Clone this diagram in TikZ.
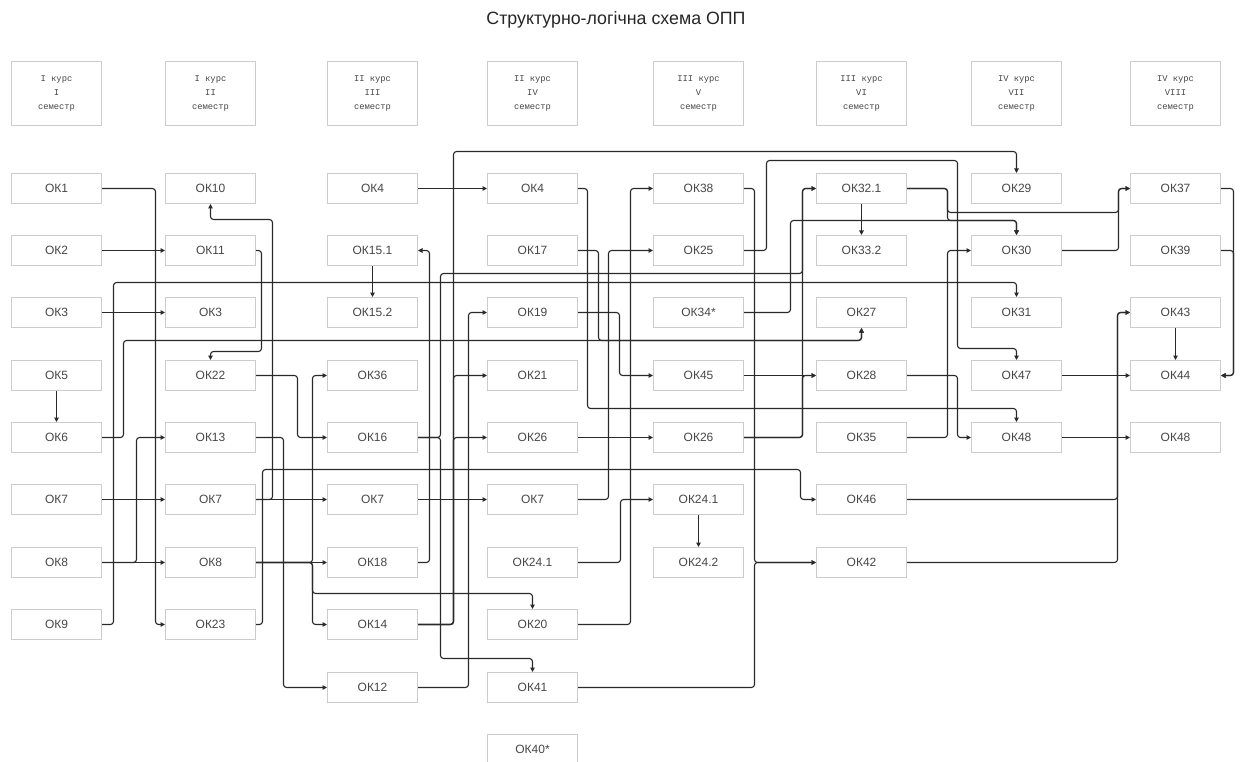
\documentclass[tikz,border=0pt]{standalone}
\usepackage{fontspec}
\setmainfont{Liberation Sans}
\newfontfamily\headfont{Liberation Mono}
\usetikzlibrary{arrows.meta}
\definecolor{boxline}{HTML}{CCCCCC}
\definecolor{wire}{HTML}{2A2A2A}
\definecolor{labeltext}{HTML}{474747}
\tikzset{
  semester/.style={
    draw=boxline,
    fill=white,
    line width=1pt,
    minimum width=90pt,
    minimum height=64pt,
    inner sep=0pt,
    align=center,
    text=labeltext,
    font=\headfont\fontsize{8.8}{14.3}\selectfont
  },
  subj/.style={
    draw=boxline,
    fill=white,
    line width=1pt,
    minimum width=90pt,
    minimum height=30pt,
    inner sep=0pt,
    text=labeltext,
    font=\fontsize{12}{14}\selectfont
  },
  link/.style={
    draw=wire,
    line width=1.1pt,
    rounded corners=3pt,
    -{Triangle[length=4.5pt,width=4.5pt]}
  }
}

\begin{document}
\begin{tikzpicture}[x=1pt,y=-1pt]
  \fill[white] (0,0) rectangle (1240,762);
  \useasboundingbox (0,0) rectangle (1240,762);
  \node[anchor=base,text=black!85,font=\fontsize{17.8}{20}\selectfont] (title) at (616,25) {Структурно-логічна схема ОПП};
  % semester headers
  \foreach \cx/\yr/\sm [count=\i] in {56.5/I/I,210.5/I/II,372.5/II/III,532.5/II/IV,698.5/III/V,861.5/III/VI,1016.5/IV/VII,1175.5/IV/VIII}
    \node[semester] (s\i) at (\cx,93.5) {\yr{} курс\\\sm\\семестр};
  % columns of subjects
  \foreach \n/\r in {ОК1/1,ОК2/2,ОК3/3,ОК5/4,ОК6/5,ОК7/6,ОК8/7,ОК9/8}
    \node[subj] (a\r) at (56.5,{floor(188+62.4*(\r-1))+0.5}) {\n};
  \foreach \n/\r in {ОК10/1,ОК11/2,ОК3/3,ОК22/4,ОК13/5,ОК7/6,ОК8/7,ОК23/8}
    \node[subj] (b\r) at (210.5,{floor(188+62.4*(\r-1))+0.5}) {\n};
  \foreach \n/\r in {ОК4/1,ОК15.1/2,ОК15.2/3,ОК36/4,ОК16/5,ОК7/6,ОК18/7,ОК14/8,ОК12/9}
    \node[subj] (c\r) at (372.5,{floor(188+62.4*(\r-1))+0.5}) {\n};
  \foreach \n/\r in {ОК4/1,ОК17/2,ОК19/3,ОК21/4,ОК26/5,ОК7/6,ОК24.1/7,ОК20/8,ОК41/9,ОК40*/10}
    \node[subj] (d\r) at (532.5,{floor(188+62.4*(\r-1))+0.5}) {\n};
  \foreach \n/\r in {ОК38/1,ОК25/2,ОК34*/3,ОК45/4,ОК26/5,ОК24.1/6,ОК24.2/7}
    \node[subj] (e\r) at (698.5,{floor(188+62.4*(\r-1))+0.5}) {\n};
  \foreach \n/\r in {ОК32.1/1,ОК33.2/2,ОК27/3,ОК28/4,ОК35/5,ОК46/6,ОК42/7}
    \node[subj] (f\r) at (861.5,{floor(188+62.4*(\r-1))+0.5}) {\n};
  \foreach \n/\r in {ОК29/1,ОК30/2,ОК31/3,ОК47/4,ОК48/5}
    \node[subj] (g\r) at (1016.5,{floor(188+62.4*(\r-1))+0.5}) {\n};
  \foreach \n/\r in {ОК37/1,ОК39/2,ОК43/3,ОК44/4,ОК48/5}
    \node[subj] (h\r) at (1175.5,{floor(188+62.4*(\r-1))+0.5}) {\n};

  % I -> II
  \draw[link] (a1.east) -- (a1.east-|155.5,0) |- (b8.west);
  \draw[link] (a2) -- (b2);
  \draw[link] (a3) -- (b3);
  \draw[link] (a4) -- (a5);
  \draw[link] (a5.east) -| (123.5,340.5) -| (f3.south);
  \draw[link] (a6) -- (b6);
  \draw[link] (a7) -- (b7);
  \draw[link] (a7.east) -- (a7.east-|136.5,0) |- (b5.west);
  \draw[link] (a8.east) -| (113.5,282.5) -| (g3.north);
  % II -> III
  \draw[link] (b6) -- (c6);
  \draw[link] (b6.east) -| (272.5,219.5) -| (b1.south);
  \draw[link] (b2.east) -| (261.5,351.5) -| (b4.north);
  \draw[link] (b4.east) -- (b4.east-|297.5,0) |- (c5.west);
  \draw[link] (b5.east) -- (b5.east-|283.5,0) |- (c9.west);
  \draw[link] (b7) -- (c7);
  \draw[link] (b7.east) -- (b7.east-|312.5,0) |- (c4.west);
  \draw[link] (b7.east) -- (b7.east-|312.5,0) |- (c8.west);
  \draw[link] (b7.east) -| (312.5,593.5) -| (d8.north);
  \draw[link] (b8.east) -| (262.5,469.5) -- (800.5,469.5) |- (f6.west);
  % III -> IV
  \draw[link] (c1) -- (d1);
  \draw[link] (c2) -- (c3);
  \draw[link] (c6) -- (d6);
  \draw[link] (c7.east) -- (c7.east-|429.5,0) |- (c2.east);
  \draw[link] (c5.east) -- (c5.east-|440.5,0) |- (802.5,273.5) |- (f1.west);
  \draw[link] (c5.east) -| (440.5,658.5) -| (d9.north);
  \draw[link] (c8.east) -- (c8.east-|453.5,0) |- (d5.west);
  \draw[link] (c8.east) -- (c8.east-|453.5,0) |- (d4.west);
  \draw[link] (c8.east) -| (453.5,151.5) -| (g1.north);
  \draw[link] (c9.east) -- (c9.east-|468.5,0) |- (d3.west);
  % IV -> V
  \draw[link] (d1.east) -| (587.5,408.5) -| (g5.north);
  \draw[link] (d2.east) -| (598.5,340.5) -| (f3.south);
  \draw[link] (d6.east) -- (d6.east-|608.5,0) |- (e2.west);
  \draw[link] (d3.east) -- (d3.east-|619.5,0) |- (e4.west);
  \draw[link] (d7.east) -- (d7.east-|620.5,0) |- (e6.west);
  \draw[link] (d8.east) -- (d8.east-|630.5,0) |- (e1.west);
  \draw[link] (d5) -- (e5);
  \draw[link] (e6) -- (e7);
  % V -> VI
  \draw[link] (e1.east) -- (e1.east-|754.5,0) |- (f7.west);
  \draw[link] (d9.east) -- (d9.east-|754.5,0) |- (f7.west);
  \draw[link] (e2.east) -| (766.5,160.5) -| (957.5,348.5) -| (g4.north);
  \draw[link] (e3.east) -| (790.5,220.5) -| (g2.north);
  \draw[link] (e5.east) -- (e5.east-|802.5,0) |- (f1.west);
  \draw[link] (e5.east) -- (e5.east-|802.5,0) |- (f4.west);
  \draw[link] (e4) -- (f4);
  % VI -> VII, VIII
  \draw[link] (f1) -- (f2);
  \draw[link] (f1.east) -| (947.5,220.5) -| (g2.north);
  \draw[link] (f1.east) -| (947.5,212.5) -- (1118.5,212.5) |- (h1.west);
  \draw[link] (f5.east) -- (f5.east-|947.5,0) |- (g2.west);
  \draw[link] (f4.east) -- (f4.east-|957.5,0) |- (g5.west);
  \draw[link] (f6.east) -- (f6.east-|1117.5,0) |- (h3.west);
  \draw[link] (f7.east) -- (f7.east-|1117.5,0) |- (h3.west);
  \draw[link] (g2.east) -- (g2.east-|1118.5,0) |- (h1.west);
  \draw[link] (g4) -- (h4);
  \draw[link] (g5) -- (h5);
  \draw[link] (h1.east) -- (h1.east-|1233.5,0) |- (h4.east);
  \draw[link] (h2.east) -- (h2.east-|1233.5,0) |- (h4.east);
  \draw[link] (h3) -- (h4);
\end{tikzpicture}
\end{document}
